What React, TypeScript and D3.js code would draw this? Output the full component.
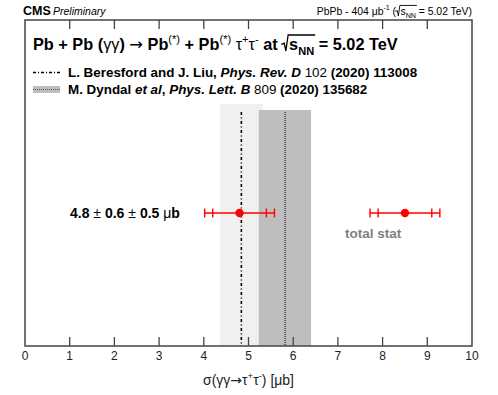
import React, { useEffect, useRef } from 'react';
import * as d3 from 'd3';

// axis
const xTicks = [0, 1, 2, 3, 4, 5, 6, 7, 8, 9, 10];

// theory predictions: [Beresford & Liu, Dyndal et al]
const theoryCentral = [4.84, 5.82];
const theoryLow = [4.36, 5.23];
const theoryHigh = [5.32, 6.4];

// measurement
const measCentral = 4.8;
const measStat = 0.6;
const measSyst = 0.5;
const legendPoint = 8.5;

type Part = { t: string; w?: string; i?: boolean; s?: 'sup' | 'sub'; sym?: boolean };
type Seg = { parts: Part[]; radical?: boolean };

const FONT = '"Liberation Sans", Arial, Helvetica, sans-serif';

const App = () => {
  const svgRef = useRef<SVGSVGElement>(null);

  useEffect(() => {
    const svg = d3.select(svgRef.current);
    svg.selectAll('*').remove();

    const width = 498;
    const height = 395;
    const margin = { top: 20, right: 26, bottom: 49, left: 25 };
    const bottom = height - margin.bottom;

    const x = d3.scaleLinear().domain([0, 10]).range([margin.left, width - margin.right]);

    const fillParts = (text: any, parts: Part[], size: number, weight: string, fill: string) => {
      text
        .style('font-family', FONT)
        .style('font-size', size + 'px')
        .style('font-weight', weight)
        .style('white-space', 'pre')
        .attr('fill', fill);
      let shift = 0;
      parts.forEach(p => {
        const ts = text.append('tspan').text(p.t);
        const target = p.s === 'sup' ? -size * 0.45 : p.s === 'sub' ? size * 0.28 : 0;
        ts.attr('dy', target - shift);
        shift = target;
        if (p.s) ts.style('font-size', size * 0.68 + 'px');
        if (p.w) ts.style('font-weight', p.w);
        if (p.sym) ts.style('font-weight', 'normal').style('font-family', '"DejaVu Sans", sans-serif');
        if (p.i) ts.style('font-style', 'italic');
      });
    };

    // draw rich text as a row of segments, returns width
    const drawRich = (g: any, x0: number, y: number, segs: Seg[], size: number, weight = 'normal', fill = '#000') => {
      let cx = x0;
      segs.forEach(seg => {
        if (seg.radical) {
          const rx = cx;
          cx += size * 0.42;
          const text = g.append('text').attr('x', cx).attr('y', y);
          fillParts(text, seg.parts, size, weight, fill);
          const w = (text.node() as SVGTextElement).getComputedTextLength();
          const top = y - size * 0.92;
          g.append('path')
            .attr('d', `M${rx - 1},${y - size * 0.35} L${rx + size * 0.12},${y - size * 0.42} L${rx + size * 0.22},${y + 1} L${rx + size * 0.36},${top} H${cx + w + 1}`)
            .attr('fill', 'none')
            .attr('stroke', fill)
            .attr('stroke-width', size > 13 ? 1.3 : 0.9);
          cx += w;
        } else {
          const text = g.append('text').attr('x', cx).attr('y', y);
          fillParts(text, seg.parts, size, weight, fill);
          cx += (text.node() as SVGTextElement).getComputedTextLength();
        }
      });
      return cx - x0;
    };

    // header
    const head = svg.append('g');
    head.append('text').attr('x', 23).attr('y', 15)
      .style('font-family', FONT).style('font-size', '12.5px').style('font-weight', 'bold').text('CMS');
    head.append('text').attr('x', 53).attr('y', 15)
      .style('font-family', FONT).style('font-size', '10.5px').style('font-style', 'italic').text('Preliminary');

    const right = svg.append('g');
    const rw = drawRich(right, 0, 15, [
      { parts: [{ t: 'PbPb - 404 ' }, { t: 'μ' }, { t: 'b' }, { t: '-1', s: 'sup' }, { t: ' (' }] },
      { parts: [{ t: 's' }, { t: 'NN', s: 'sub' }], radical: true },
      { parts: [{ t: ' = 5.02 TeV)' }] },
    ], 10.4);
    right.attr('transform', `translate(${width - margin.right - rw},0)`);

    // theory bands
    const bandTop = [104, 110];
    const bandFill = ['#f0f0f0', '#bebebe'];
    theoryCentral.forEach((c, i) => {
      svg.append('rect')
        .attr('x', x(theoryLow[i]))
        .attr('y', bandTop[i])
        .attr('width', x(theoryHigh[i]) - x(theoryLow[i]))
        .attr('height', bottom - bandTop[i])
        .attr('fill', bandFill[i]);
    });
    svg.append('line')
      .attr('x1', x(theoryCentral[0])).attr('x2', x(theoryCentral[0]))
      .attr('y1', 112).attr('y2', bottom)
      .attr('stroke', '#000').attr('stroke-width', 1.6)
      .attr('stroke-dasharray', '3,2.5,1,2.5');
    svg.append('line')
      .attr('x1', x(theoryCentral[1])).attr('x2', x(theoryCentral[1]))
      .attr('y1', 112).attr('y2', bottom)
      .attr('stroke', '#333').attr('stroke-width', 1.3)
      .attr('stroke-dasharray', '1,1');

    // frame + ticks
    const axisColor = '#444';
    svg.append('rect')
      .attr('x', margin.left).attr('y', margin.top)
      .attr('width', width - margin.left - margin.right)
      .attr('height', bottom - margin.top)
      .attr('fill', 'none').attr('stroke', axisColor).attr('stroke-width', 1.5);
    const ticks = svg.append('g');
    xTicks.slice(1, -1).forEach(t => {
      ticks.append('line').attr('x1', x(t)).attr('x2', x(t)).attr('y1', bottom).attr('y2', bottom - 9)
        .attr('stroke', axisColor).attr('stroke-width', 1.3);
      ticks.append('line').attr('x1', x(t)).attr('x2', x(t)).attr('y1', margin.top).attr('y2', margin.top + 9)
        .attr('stroke', axisColor).attr('stroke-width', 1.3);
    });
    xTicks.forEach(t => {
      svg.append('text')
        .attr('x', x(t)).attr('y', bottom + 14)
        .attr('text-anchor', 'middle')
        .style('font-family', FONT).style('font-size', '12px').attr('fill', '#222')
        .text(t);
    });

    // x title
    const xt = svg.append('g');
    const xtw = drawRich(xt, 0, 385, [
      { parts: [{ t: 'σ(γγ' }, { t: '→', sym: true }, { t: 'τ' }, { t: '+', s: 'sup' }, { t: 'τ' }, { t: '-', s: 'sup' }, { t: ') [μb]' }] },
    ], 14, 'normal', '#222');
    xt.attr('transform', `translate(${(margin.left + width - margin.right) / 2 - xtw / 2},0)`);

    // title
    const title = svg.append('g');
    drawRich(title, 33, 50, [
      { parts: [
        { t: 'Pb + Pb (' }, { t: 'γγ', w: 'normal' }, { t: ') ' }, { t: '→', sym: true }, { t: ' Pb' }, { t: '(*)', s: 'sup', w: 'normal' },
        { t: ' + Pb' }, { t: '(*)', s: 'sup', w: 'normal' }, { t: ' ' }, { t: 'τ', w: 'normal' }, { t: '+', s: 'sup', w: 'normal' },
        { t: 'τ', w: 'normal' }, { t: '-', s: 'sup', w: 'normal' }, { t: ' at ' },
      ] },
      { parts: [{ t: 's' }, { t: 'NN', s: 'sub' }], radical: true },
      { parts: [{ t: ' = 5.02 TeV' }] },
    ], 16.3, 'bold');

    // legend
    const leg = svg.append('g');
    const ly = [77, 94];
    leg.append('line').attr('x1', 33).attr('x2', 60).attr('y1', ly[0] - 4.5).attr('y2', ly[0] - 4.5)
      .attr('stroke', '#000').attr('stroke-width', 1.3).attr('stroke-dasharray', '3,2,1,2');
    leg.append('rect').attr('x', 33).attr('y', ly[1] - 8).attr('width', 27).attr('height', 7).attr('fill', bandFill[1]);
    leg.append('line').attr('x1', 33).attr('x2', 60).attr('y1', ly[1] - 4.5).attr('y2', ly[1] - 4.5)
      .attr('stroke', '#555').attr('stroke-width', 1).attr('stroke-dasharray', '1,1');
    drawRich(leg, 68, ly[0], [{ parts: [
      { t: 'L. Beresford and J. Liu, ' }, { t: 'Phys. Rev. D', i: true }, { t: ' 102', w: 'normal' }, { t: ' (2020) 113008' },
    ] }], 13.4, 'bold');
    drawRich(leg, 68, ly[1], [{ parts: [
      { t: 'M. Dyndal ' }, { t: 'et al', i: true }, { t: ', ' }, { t: 'Phys. Lett. B', i: true }, { t: ' 809', w: 'normal' }, { t: ' (2020) 135682' },
    ] }], 13.4, 'bold');

    // measurement + legend marker
    const total = Math.sqrt(measStat * measStat + measSyst * measSyst);
    const py = 213;
    const red = '#ff0000';
    const drawPoint = (c: number) => {
      const g = svg.append('g');
      g.append('line').attr('x1', x(c - total)).attr('x2', x(c + total)).attr('y1', py).attr('y2', py)
        .attr('stroke', red).attr('stroke-width', 1.6);
      [c - total, c + total, c - measStat, c + measStat].forEach(v => {
        g.append('line').attr('x1', x(v)).attr('x2', x(v)).attr('y1', py - 4.5).attr('y2', py + 4.5)
          .attr('stroke', red).attr('stroke-width', 1.4);
      });
      g.append('circle').attr('cx', x(c)).attr('cy', py).attr('r', 4.2).attr('fill', red);
    };
    drawPoint(measCentral);
    drawPoint(legendPoint);

    drawRich(svg, 70, 218, [{ parts: [
      { t: `${measCentral}` }, { t: ' ± ', w: 'normal' }, { t: `${measStat}` }, { t: ' ± ', w: 'normal' }, { t: `${measSyst}` }, { t: ' μ', w: 'normal' }, { t: 'b' },
    ] }], 14, 'bold');

    svg.append('text').attr('x', 345).attr('y', 238)
      .style('font-family', FONT).style('font-size', '13.5px').style('font-weight', 'bold')
      .attr('fill', '#808080').text('total stat');
  }, []);

  return <svg ref={svgRef} width="498" height="395" style={{ position: 'absolute', left: 0, top: 0 }}></svg>;
};

export default App;
